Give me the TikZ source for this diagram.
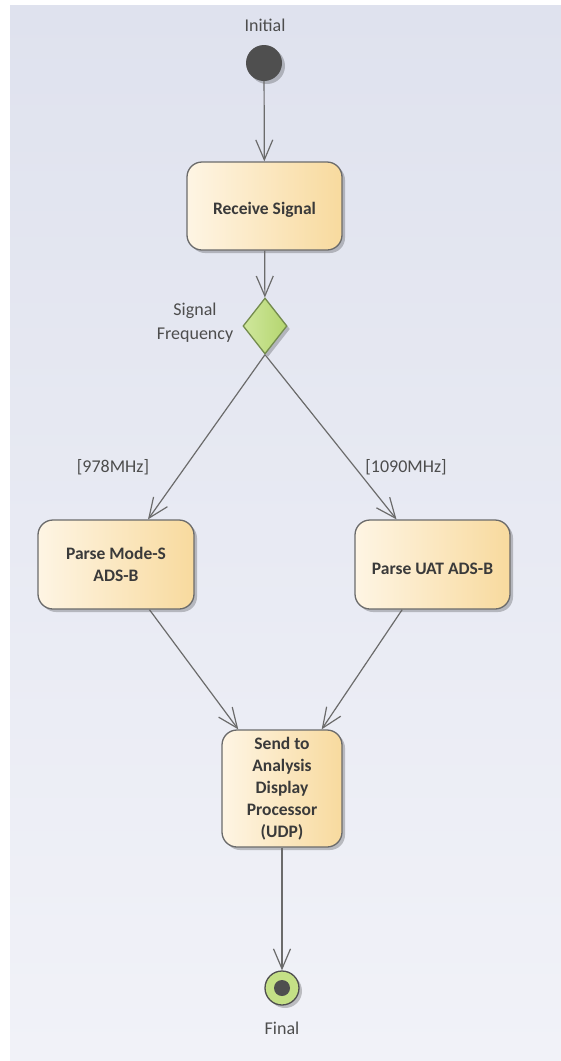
\documentclass[tikz,border=0pt]{standalone}
\usepackage{fontspec}
\setmainfont{Carlito}
\usetikzlibrary{arrows.meta,shapes.geometric,shadows}

\definecolor{bgtop}{HTML}{DFE2EE}
\definecolor{bgbot}{HTML}{F1F2F8}
\definecolor{actl}{HTML}{FEF5E4}
\definecolor{actr}{HTML}{F8DA9E}
\definecolor{edgegray}{HTML}{6B6B6B}
\definecolor{txtgray}{HTML}{3A3A3A}
\definecolor{lblgray}{HTML}{4D4D4D}
\definecolor{decl}{HTML}{CFE79C}
\definecolor{decr}{HTML}{B4D56F}
\definecolor{decline}{HTML}{748C4E}
\definecolor{finfill}{HTML}{C4E086}
\definecolor{dotgray}{HTML}{4F4F4F}

\begin{document}
\begin{tikzpicture}[x=1pt,y=-1pt,
  shade/.style={drop shadow={shadow xshift=3pt,shadow yshift=-3pt,opacity=.22,fill=black}},
  action/.style={draw=edgegray,line width=1.3pt,rounded corners=15pt,left color=actl,right color=actr,
    text=txtgray,font=\fontsize{17.5}{22}\selectfont\bfseries,align=center,inner sep=0pt,shade,
    execute at begin node={\rule{0pt}{20pt}}},
  decision/.style={diamond,draw=decline,line width=1.3pt,left color=decl,right color=decr,
    minimum width=44pt,minimum height=56pt,inner sep=0pt,shade},
  lbl/.style={text=lblgray,font=\fontsize{18}{24}\selectfont,align=center,inner sep=0pt},
  flow/.style={draw=edgegray,line width=1.2pt,-{Straight Barb[length=20pt,width=17pt,line width=1.2pt]}}]

% frame
\useasboundingbox (0,0) rectangle (561,1061);
\fill[white] (0,0) rectangle (561,1061);
\shade[top color=bgtop,bottom color=bgbot] (10,5) rectangle (561,1061);

% nodes
\node[circle,fill=dotgray,minimum size=36pt,inner sep=0pt,shade] (init) at (264,63) {};
\node[lbl] (initlbl) at (265,25) {Initial};

\node[action,minimum width=155pt,minimum height=88pt] (recv) at (264.5,206) {Receive Signal};

\node[decision] (freq) at (265,326) {};
\node[lbl] (freqlbl) at (195,323) {Signal\\Frequency};

\node[action,minimum width=156pt,minimum height=89pt] (modes) at (116,564.5) {Parse Mode-S\\ADS-B};
\node[action,minimum width=155pt,minimum height=89pt] (uat) at (432.5,564.5) {Parse UAT ADS-B};

\node[lbl] (lbl978) at (113,467) {[978MHz]};
\node[lbl] (lbl1090) at (406,467) {[1090MHz]};

\node[action,minimum width=120pt,minimum height=117pt] (send) at (282,788.5)
  {Send to\\Analysis\\Display\\Processor\\(UDP)};

\node[circle,draw=dotgray,line width=1.3pt,fill=finfill,minimum size=34pt,inner sep=0pt,shade] (final) at (282,988) {};
\fill[dotgray] (final.center) circle (8pt);
\node[lbl] (finlbl) at (282,1028) {Final};

% flows
\draw[flow] (init) -- (recv);
\draw[flow] (recv) -- (freq);
\draw[flow] (freq.south) -- (modes);
\draw[flow] (freq.south) -- (uat);
\draw[flow] (modes) -- (send);
\draw[flow] (uat) -- (send);
\draw[flow] (send) -- (final);

\end{tikzpicture}
\end{document}
